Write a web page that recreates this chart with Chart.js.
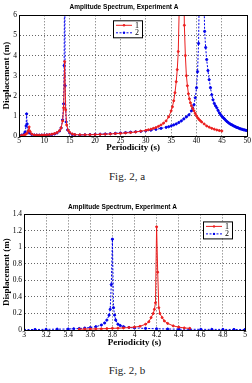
<!DOCTYPE html>
<html>
<head>
<meta charset="utf-8">
<script src="https://cdn.jsdelivr.net/npm/chart.js@4/dist/chart.umd.min.js"></script>
<style>
  body { margin: 0; background: #fff; width: 252px; height: 383px; position: relative; overflow: hidden; }
  .box { position: absolute; left: 0; width: 252px; height: 160px; }
  .cap { position: absolute; left: 0; width: 254px; text-align: center; font: 11px "Liberation Serif", serif; color: #222; }
</style>
</head>
<body>
<div class="box" style="top:0"><canvas id="chartA"></canvas></div>
<div class="cap" style="top:170px">Fig. 2, a</div>
<div class="box" style="top:190px"><canvas id="chartB"></canvas></div>
<div class="cap" style="top:364px">Fig. 2, b</div>
<script>
// Fig. 2a - periodicity 5..50 s
const a1x = [5,5.5,6,6.3,6.6,6.8,7,7.2,7.5,8,8.5,9,9.5,10,10.5,11,11.5,12,12.5,13,13.3,13.6,13.8,14,14.2,14.4,14.7,15,15.5,16,17,18,19,20,21,22,23,24,25,26,27,28,29,30,30.5,31,31.5,32,32.5,33,33.5,34,34.5,35,35.25,35.5,35.75,36,36.2,36.4,36.6,37,37.3,37.6,37.8,38,38.2,38.4,38.6,38.8,39,39.25,39.5,39.75,40,40.25,40.5,40.75,41,41.5,42,42.5,43,43.5,44,44.5,45];
const a1y = [0.02,0.03,0.05,0.08,0.14,0.25,0.45,0.22,0.1,0.05,0.045,0.04,0.045,0.05,0.06,0.07,0.09,0.12,0.17,0.27,0.4,0.75,1.4,3.7,1.3,0.55,0.28,0.18,0.1,0.07,0.06,0.06,0.065,0.07,0.08,0.09,0.1,0.12,0.13,0.15,0.17,0.2,0.24,0.28,0.31,0.34,0.38,0.42,0.48,0.55,0.64,0.75,0.95,1.25,1.45,1.75,2.15,2.7,3.3,4.2,6.5,12,12,5.5,4.0,3.0,2.5,2.1,1.85,1.65,1.5,1.37,1.25,1.12,1.0,0.9,0.82,0.76,0.7,0.6,0.5,0.44,0.38,0.34,0.3,0.27,0.25];
const a2x = [5,5.5,6,6.2,6.4,6.5,6.6,6.8,7,7.5,8,8.5,9,9.5,10,10.5,11,11.5,12,12.5,13,13.3,13.6,13.8,13.9,14,14.1,14.3,14.6,15,15.5,16,17,18,19,20,21,22,23,24,25,26,27,28,29,30,31,32,33,34,34.5,35,35.5,36,36.5,37,37.5,38,38.5,39,39.25,39.5,39.75,40,40.2,40.4,40.6,41,41.3,41.6,41.8,42,42.25,42.5,42.75,43,43.25,43.5,43.75,44,44.25,44.5,44.75,45,45.25,45.5,45.75,46,46.25,46.5,46.75,47,47.25,47.5,47.75,48,48.25,48.5,48.75,49,49.25,49.5,49.75,50];
const a2y = [0.02,0.04,0.1,0.2,0.5,1.1,0.6,0.25,0.15,0.08,0.05,0.045,0.04,0.045,0.05,0.055,0.06,0.08,0.1,0.15,0.25,0.4,0.8,1.6,3.5,9,2.5,0.7,0.3,0.15,0.08,0.06,0.05,0.06,0.07,0.08,0.09,0.1,0.115,0.13,0.15,0.17,0.19,0.21,0.23,0.26,0.29,0.33,0.38,0.43,0.46,0.5,0.55,0.6,0.67,0.75,0.85,0.95,1.05,1.25,1.38,1.55,1.9,2.4,3.2,4.6,8,14,9,5.2,4.4,3.8,3.25,2.8,2.4,2.05,1.8,1.62,1.5,1.4,1.27,1.15,1.06,0.98,0.91,0.85,0.78,0.72,0.67,0.62,0.58,0.55,0.51,0.48,0.45,0.42,0.4,0.37,0.35,0.33,0.31,0.3,0.28,0.27];

// Fig. 2b - periodicity 3..5 s
const b1x = [3.5,3.55,3.6,3.65,3.7,3.75,3.8,3.85,3.9,3.95,4.0,4.05,4.1,4.13,4.15,4.17,4.18,4.19,4.2,4.21,4.22,4.23,4.25,4.27,4.3,4.35,4.4,4.45,4.5];
const b1y = [0.01,0.011,0.012,0.013,0.015,0.017,0.02,0.022,0.025,0.03,0.035,0.045,0.07,0.1,0.15,0.2,0.25,0.33,1.25,0.7,0.27,0.2,0.15,0.11,0.08,0.05,0.035,0.025,0.02];
const b2x = [3,3.1,3.2,3.3,3.4,3.45,3.5,3.55,3.6,3.65,3.7,3.73,3.75,3.77,3.78,3.79,3.8,3.81,3.82,3.83,3.85,3.87,3.9,3.95,4.0,4.1,4.2,4.3,4.4,4.5,4.6,4.7,4.8,4.9,5];
const b2y = [0.005,0.006,0.008,0.01,0.012,0.015,0.018,0.023,0.03,0.04,0.06,0.085,0.12,0.18,0.25,0.55,1.1,0.27,0.18,0.12,0.07,0.055,0.04,0.03,0.025,0.019,0.015,0.012,0.01,0.009,0.008,0.0075,0.007,0.0065,0.006];

const seriesNames = ["1", "2"];
const titleText = "Amplitude Spectrum, Experiment A";
const xTitle = "Periodicity (s)";
const yTitle = "Displacement (m)";

const RED = "rgb(235,30,30)";
const BLUE = "rgb(0,0,235)";
const serif = "'Liberation Serif', serif";

const pts = (xs, ys) => xs.map((x, i) => ({ x: x, y: ys[i] }));
const fmt = (v) => String(+Number(v).toFixed(2));

// boxed legend inside the plot + frame around the plot
function framePlugin(lx, ly) {
  return {
    id: "frame",
    afterDraw(chart) {
      const ctx = chart.ctx;
      const a = chart.chartArea;
      ctx.save();
      ctx.strokeStyle = "#000";
      ctx.lineWidth = 1;
      ctx.strokeRect(Math.round(a.left) + 0.5, Math.round(a.top) + 0.5, Math.round(a.right - a.left), Math.round(a.bottom - a.top));
      // legend
      const x0 = a.left + lx, y0 = a.top + ly;
      ctx.fillStyle = "#fff";
      ctx.fillRect(x0, y0, 29, 17);
      ctx.strokeRect(x0 + 0.5, y0 + 0.5, 29, 17);
      chart.data.datasets.forEach((ds, i) => {
        const yy = y0 + 5 + i * 7.5;
        ctx.strokeStyle = ds.borderColor;
        ctx.setLineDash(ds.borderDash || []);
        ctx.beginPath();
        ctx.moveTo(x0 + 3, yy);
        ctx.lineTo(x0 + 19, yy);
        ctx.stroke();
        ctx.setLineDash([]);
        ctx.fillStyle = ds.borderColor;
        ctx.beginPath();
        ctx.arc(x0 + 11, yy, 1.2, 0, Math.PI * 2);
        ctx.fill();
        ctx.fillStyle = "#000";
        ctx.font = "8px " + serif;
        ctx.textBaseline = "middle";
        ctx.fillText(ds.label, x0 + 22, yy + 0.5);
      });
      ctx.restore();
    }
  };
}

function makeChart(id, d1, d2, xr, yr, opt) {
  new Chart(document.getElementById(id), {
    type: "scatter",
    data: {
      datasets: [
        { label: seriesNames[0], data: d1, showLine: true, borderColor: RED, backgroundColor: RED,
          borderWidth: 1, pointRadius: 1, pointHoverRadius: 1 },
        { label: seriesNames[1], data: d2, showLine: true, borderColor: BLUE, backgroundColor: BLUE,
          borderWidth: 1, borderDash: [2, 1.5], pointRadius: 1.1, pointHoverRadius: 1.1 }
      ]
    },
    options: {
      responsive: true,
      maintainAspectRatio: false,
      animation: false,
      layout: { padding: { top: opt.top, right: opt.right, left: 0, bottom: 0 } },
      plugins: {
        legend: { display: false },
        tooltip: { enabled: false },
        title: {
          display: true,
          text: titleText,
          color: "#000",
          font: { family: "'Liberation Sans', sans-serif", size: 6.5, weight: "bold" },
          padding: { top: 3, bottom: opt.titleGap }
        }
      },
      scales: {
        x: {
          type: "linear",
          min: xr[0], max: xr[1],
          afterFit: (s) => { s.height = opt.xh; },
          ticks: { stepSize: xr[2], color: "#000", padding: 1, font: { family: serif, size: 7.5 }, maxRotation: 0, callback: fmt },
          grid: { color: "#000", lineWidth: 0.6, drawTicks: false },
          border: { display: true, color: "#000", dash: [1, 2] },
          title: { display: true, text: xTitle, color: "#000", padding: { top: 0, bottom: opt.xtPad },
                   font: { family: serif, size: 9, weight: "bold" } }
        },
        y: {
          min: yr[0], max: yr[1],
          afterFit: (s) => { s.width = opt.yw; },
          ticks: { stepSize: yr[2], color: "#000", padding: 2, font: { family: serif, size: 7.5 }, callback: fmt },
          grid: { color: "#000", lineWidth: 0.6, drawTicks: false },
          border: { display: true, color: "#000", dash: [1, 2] },
          title: { display: true, text: yTitle, color: "#000", padding: { top: 1, bottom: 0 },
                   font: { family: serif, size: 9, weight: "bold" } }
        }
      }
    },
    plugins: [framePlugin(opt.lx, opt.ly)]
  });
}

makeChart("chartA", pts(a1x, a1y), pts(a2x, a2y), [5, 50, 5], [0, 6, 1],
  { top: 0, right: 4, titleGap: 4.5, xh: 24, xtPad: 7, yw: 19, lx: 94, ly: 5 });
makeChart("chartB", pts(b1x, b1y), pts(b2x, b2y), [3, 5, 0.2], [0, 1.4, 0.2],
  { top: 10, right: 7, titleGap: 3.6, xh: 20, xtPad: 2, yw: 24, lx: 179, ly: 7 });
</script>
</body>
</html>
